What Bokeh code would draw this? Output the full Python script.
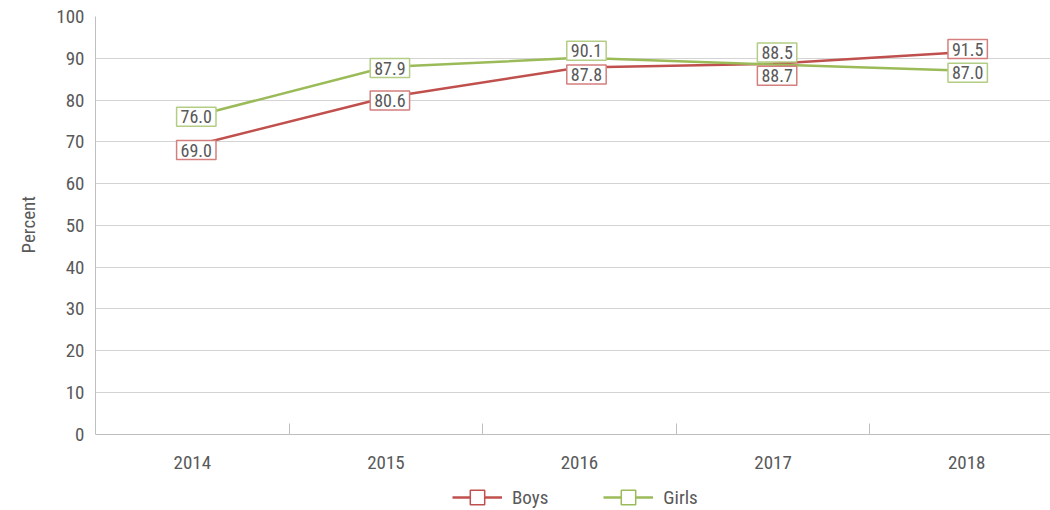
from bokeh.plotting import figure
from bokeh.models import ColumnDataSource, Legend, LegendItem, FixedTicker, Range1d, Title
from bokeh.core.properties import value
from bokeh.embed import file_html
from bokeh.resources import INLINE

# ---- data ----
years = ["2014", "2015", "2016", "2017", "2018"]
boys = [69.0, 80.6, 87.8, 88.7, 91.5]
girls = [76.0, 87.9, 90.1, 88.5, 87.0]
y_ticks = [0, 10, 20, 30, 40, 50, 60, 70, 80, 90, 100]

# ---- label placement (screen px, positive = down) ----
boys_dy = [4, 3, 7, 12, -3]
girls_dy = [0, 1, -7, -12, 2]
label_dx = [4, 4, 7, 4, 1]

FONT = "Roboto Condensed, DejaVu Sans Condensed, Roboto, sans-serif"
TXT = "#595959"
RED = "#c0504d"
GREEN = "#9bbb59"
RED_BOX = "#d47f7d"
GREEN_BOX = "#b3cd85"

xs = list(range(len(years)))
src = ColumnDataSource(dict(
    x=xs, boys=boys, girls=girls,
    boys_txt=[f"{v:.1f}" for v in boys],
    girls_txt=[f"{v:.1f}" for v in girls],
    boys_dy=boys_dy, girls_dy=girls_dy, dx=label_dx,
))

# frame spans to the bottom of the canvas; the x axis sits at y = 0
p = figure(width=1050, height=510, x_range=Range1d(-0.5, 4.433), y_range=Range1d(-18.24, 100),
           output_backend="svg", toolbar_location=None,
           min_border_left=95, min_border_right=0, min_border_top=16, min_border_bottom=0)
p.outline_line_color = None
p.background_fill_color = "white"
p.border_fill_color = "white"

# x axis
p.xaxis.fixed_location = 0
p.xaxis.ticker = FixedTicker(ticks=xs, minor_ticks=[0.5, 1.5, 2.5, 3.5])
p.xaxis.major_label_overrides = {i: y for i, y in enumerate(years)}
p.xaxis.major_tick_in = 0
p.xaxis.major_tick_out = 0
p.xaxis.minor_tick_in = 11
p.xaxis.minor_tick_out = 0
p.xaxis.minor_tick_line_color = "#bfbfbf"
p.xaxis.axis_line_color = "#bfbfbf"
p.xaxis.major_label_standoff = 22
p.xaxis.major_label_text_font = FONT
p.xaxis.major_label_text_font_size = "19px"
p.xaxis.major_label_text_color = TXT

# y axis
p.yaxis.ticker = FixedTicker(ticks=y_ticks)
p.yaxis.bounds = (0, 100)
p.yaxis.major_tick_in = 0
p.yaxis.major_tick_out = 0
p.yaxis.minor_tick_line_color = None
p.yaxis.axis_line_color = "#bfbfbf"
p.yaxis.major_label_standoff = 11
p.yaxis.major_label_text_font = FONT
p.yaxis.major_label_text_font_size = "19px"
p.yaxis.major_label_text_color = TXT

# y axis title, centred on the 0-100 span
ytitle = Title(text="Percent", align="left", offset=257, standoff=28,
               text_font=FONT, text_font_size="19px", text_font_style="normal", text_color=TXT)
p.add_layout(ytitle, "left")

p.xgrid.grid_line_color = None
p.ygrid.grid_line_color = "#d4d4d4"
p.ygrid.grid_line_width = 1

# point markers (hidden under the labels; shown in the legend)
m_boys = p.scatter("x", "boys", source=src, marker="square", size=0, fill_color="white",
                   line_color=RED, line_width=1.5)
m_girls = p.scatter("x", "girls", source=src, marker="square", size=0, fill_color="white",
                    line_color=GREEN, line_width=1.5)

# lines
r_boys = p.line("x", "boys", source=src, line_color=RED, line_width=2.5)
r_girls = p.line("x", "girls", source=src, line_color=GREEN, line_width=2.5)

pad = dict(left=4, right=4, top=3, bottom=3)
p.text(x="x", y="boys", text="boys_txt", source=src, x_offset="dx", y_offset="boys_dy",
       text_align="center", text_baseline="middle", text_font=value(FONT), text_font_size="18px",
       text_color=TXT, background_fill_color="white", border_line_color=RED_BOX,
       border_line_width=1.5, padding=pad)
p.text(x="x", y="girls", text="girls_txt", source=src, x_offset="dx", y_offset="girls_dy",
       text_align="center", text_baseline="middle", text_font=value(FONT), text_font_size="18px",
       text_color=TXT, background_fill_color="white", border_line_color=GREEN_BOX,
       border_line_width=1.5, padding=pad)

legend = Legend(items=[LegendItem(label="Boys", renderers=[r_boys, m_boys]),
                       LegendItem(label="Girls", renderers=[r_girls, m_girls])],
                orientation="horizontal", location=(357, -5),
                glyph_width=50, glyph_height=36, label_standoff=10, spacing=55,
                padding=0, margin=0, border_line_color=None, background_fill_alpha=0,
                label_text_font=FONT, label_text_font_size="19px", label_text_color=TXT)
p.add_layout(legend)

open("out.html", "w").write(file_html(p, INLINE))
